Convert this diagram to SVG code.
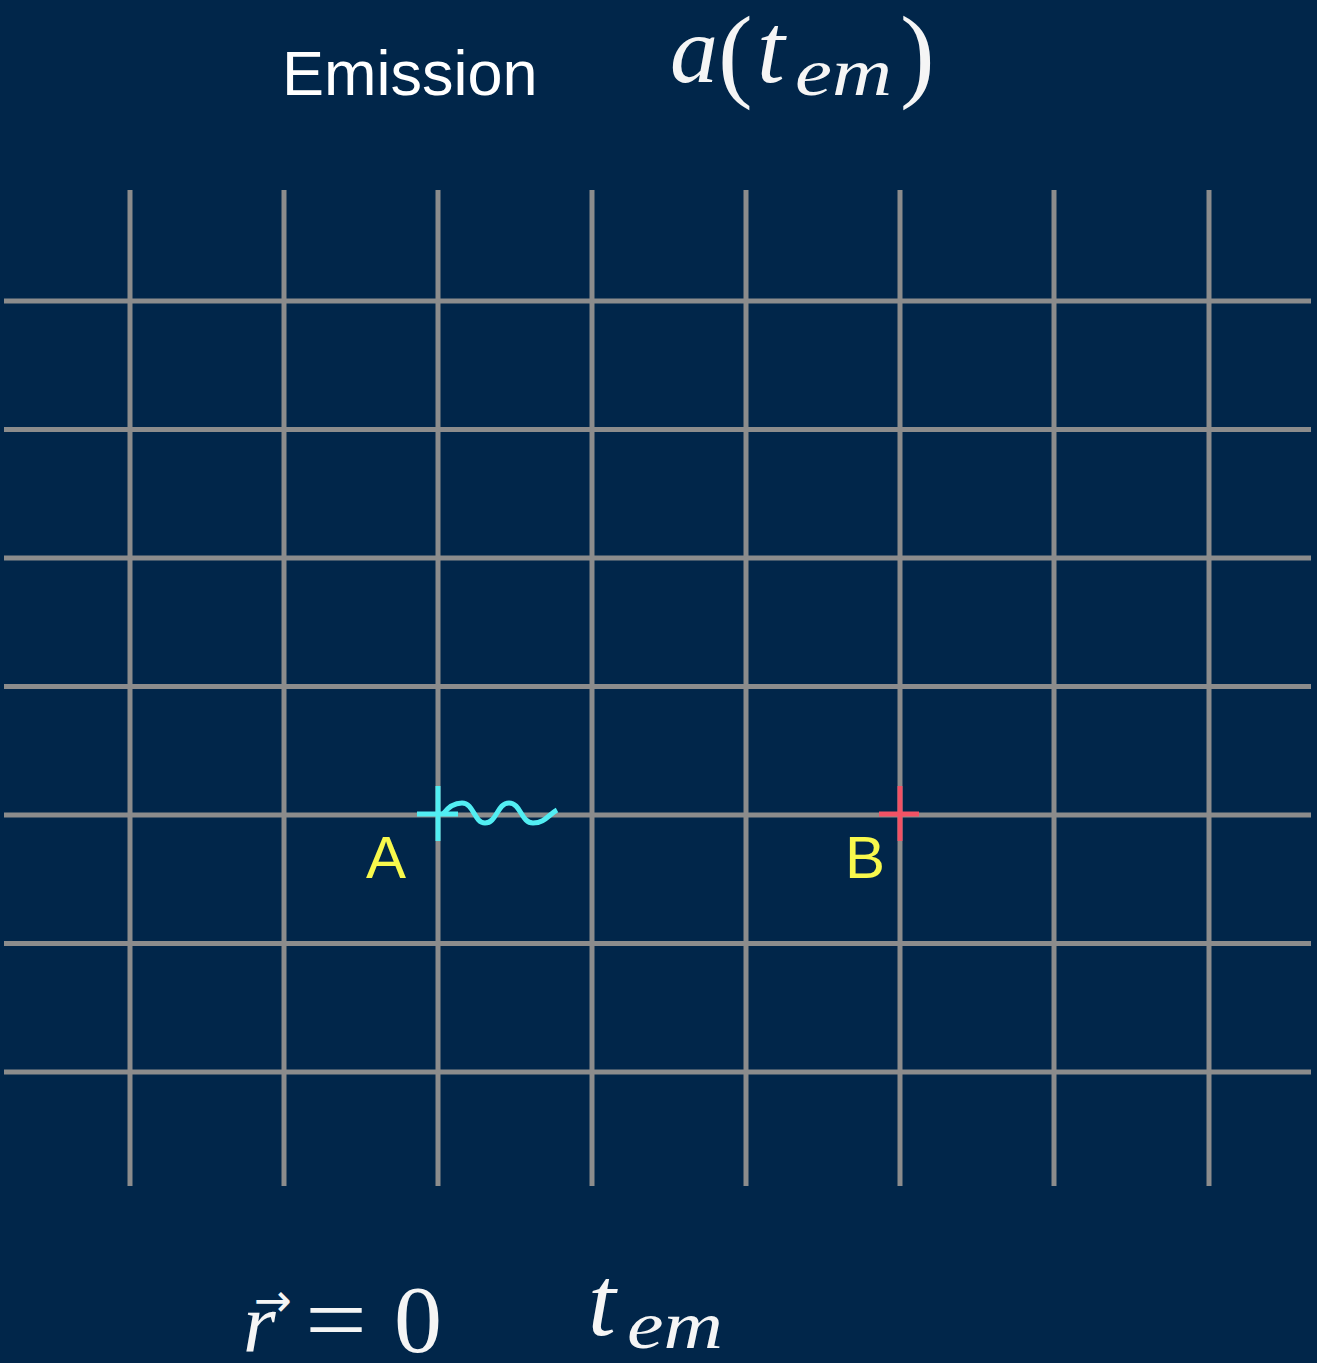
<svg xmlns="http://www.w3.org/2000/svg" width="1317" height="1363" viewBox="0 0 1317 1363">
<style>
.grid line{stroke:#8c8c8c;stroke-width:5}
.lbl{font-family:"Liberation Sans",Arial,sans-serif;font-size:60px;fill:#f8f84c}
.title{font-family:"Liberation Sans",Arial,sans-serif;font-size:63px;fill:#ffffff}
.m{font-family:"Liberation Serif","DejaVu Serif",serif;fill:#f5f5f5}
.mi{font-style:italic}
</style>
<rect width="1317" height="1363" fill="#01264a"/>
<g id="grid" class="grid">
<line x1="130" y1="190" x2="130" y2="1186"/>
<line x1="284" y1="190" x2="284" y2="1186"/>
<line x1="438" y1="190" x2="438" y2="1186"/>
<line x1="592" y1="190" x2="592" y2="1186"/>
<line x1="746" y1="190" x2="746" y2="1186"/>
<line x1="900" y1="190" x2="900" y2="1186"/>
<line x1="1054" y1="190" x2="1054" y2="1186"/>
<line x1="1209" y1="190" x2="1209" y2="1186"/>
<line x1="4" y1="301" x2="1311" y2="301"/>
<line x1="4" y1="429.5" x2="1311" y2="429.5"/>
<line x1="4" y1="558" x2="1311" y2="558"/>
<line x1="4" y1="686.5" x2="1311" y2="686.5"/>
<line x1="4" y1="815" x2="1311" y2="815"/>
<line x1="4" y1="943.5" x2="1311" y2="943.5"/>
<line x1="4" y1="1072" x2="1311" y2="1072"/>
</g>
<g id="title">
<text class="title" x="282" y="95">Emission</text>
<text class="m mi" font-size="96" x="670" y="82" textLength="48" lengthAdjust="spacingAndGlyphs">a</text>
<text class="m" font-size="104" x="718" y="88">(</text>
<text class="m mi" font-size="100" x="757" y="82">t</text>
<text class="m mi" font-size="68" x="795" y="95" textLength="97" lengthAdjust="spacingAndGlyphs">em</text>
<text class="m" font-size="104" x="900" y="88">)</text>
</g>
<g id="pointA">
<path d="M417,814H458M438,786V841" stroke="#52eef3" stroke-width="5" fill="none"/>
<path d="M443,814C449,806 455,803 462,803C474,803 474,823 485,823C497,823 497,803 509,803C521,803 521,823 533,823C545,823 548,815 557,810" stroke="#52eef3" stroke-width="5" fill="none"/>
<text class="lbl" x="366" y="878">A</text>
</g>
<g id="pointB">
<path d="M879,814H919M900,786V841" stroke="#f25265" stroke-width="5" fill="none"/>
<text class="lbl" x="845" y="878">B</text>
</g>
<g id="bottom">
<text class="m mi" font-size="84" x="243" y="1352">r</text>
<text font-family="DejaVu Sans,sans-serif" fill="#f5f5f5" font-size="46" x="254" y="1316" textLength="38" lengthAdjust="spacingAndGlyphs">→</text>
<text class="m" font-size="96" x="305" y="1352" textLength="62" lengthAdjust="spacingAndGlyphs">=</text>
<text class="m" font-size="96" x="394" y="1352">0</text>
<text class="m mi" font-size="100" x="588" y="1335">t</text>
<text class="m mi" font-size="68" x="627" y="1348" textLength="96" lengthAdjust="spacingAndGlyphs">em</text>
</g>
</svg>
